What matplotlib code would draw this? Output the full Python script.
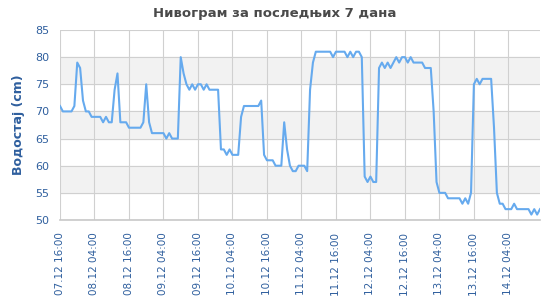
import matplotlib
matplotlib.use('Agg')
import matplotlib.pyplot as plt
import matplotlib.dates as mdates
import pandas as pd

# hourly water level readings, 07.12 16:00 .. 14.12 15:00
start_time = '2024-12-07 16:00'
levels = [
    71, 70, 70, 70, 70, 71, 79, 78, 72, 70, 70, 69,
    69, 69, 69, 68, 69, 68, 68, 74, 77, 68, 68, 68,
    67, 67, 67, 67, 67, 68, 75, 68, 66, 66, 66, 66,
    66, 65, 66, 65, 65, 65, 80, 77, 75, 74, 75, 74,
    75, 75, 74, 75, 74, 74, 74, 74, 63, 63, 62, 63,
    62, 62, 62, 69, 71, 71, 71, 71, 71, 71, 72, 62,
    61, 61, 61, 60, 60, 60, 68, 63, 60, 59, 59, 60,
    60, 60, 59, 74, 79, 81, 81, 81, 81, 81, 81, 80,
    81, 81, 81, 81, 80, 81, 80, 81, 81, 80, 58, 57,
    58, 57, 57, 78, 79, 78, 79, 78, 79, 80, 79, 80,
    80, 79, 80, 79, 79, 79, 79, 78, 78, 78, 70, 57,
    55, 55, 55, 54, 54, 54, 54, 54, 53, 54, 53, 55,
    75, 76, 75, 76, 76, 76, 76, 67, 55, 53, 53, 52,
    52, 52, 53, 52, 52, 52, 52, 52, 51, 52, 51, 52,
]
y_ticks = [50, 55, 60, 65, 70, 75, 80, 85]

times = pd.date_range(start_time, periods=len(levels), freq='h')

label_blue = '#2f5f9e'
line_blue = '#66aaee'

fig = plt.figure(figsize=(5.5, 3.0), dpi=100)
ax = fig.add_axes([60 / 550, 1 - 220 / 300, 480 / 550, 190 / 300])

# alternating bands
for i in range(len(y_ticks) - 1):
    if i % 2 == 1:
        ax.axhspan(y_ticks[i], y_ticks[i + 1], color='#f2f2f2', zorder=0)

ax.plot(times, levels, color=line_blue, linewidth=1.5, zorder=3)

ax.set_xlim(times[0], times[-1])
ax.set_ylim(50, 85)
ax.set_yticks(y_ticks)
ax.set_xticks(times[::12])
ax.xaxis.set_major_formatter(mdates.DateFormatter('%d.%m %H:%M'))

ax.grid(True, color='#d0d0d0', linewidth=0.8, zorder=1)
ax.set_axisbelow(True)
for side in ['top', 'right', 'left']:
    ax.spines[side].set_visible(False)
ax.spines['bottom'].set_color('#c8c8c8')
ax.spines['bottom'].set_linewidth(1.2)

ax.tick_params(axis='x', rotation=90, labelsize=7.5, labelcolor=label_blue,
               length=0, pad=9)
ax.tick_params(axis='y', labelsize=8, labelcolor=label_blue, length=0, pad=8)

ax.set_ylabel('Водостај (cm)', fontsize=9, fontweight='bold', color=label_blue,
              labelpad=7)
fig.suptitle('Нивограм за последњих 7 дана', fontsize=9.5, fontweight='bold',
             color='#4a4a4a', x=0.5, y=1 - 7 / 300, va='top')

fig.savefig('out.png', dpi=100)
